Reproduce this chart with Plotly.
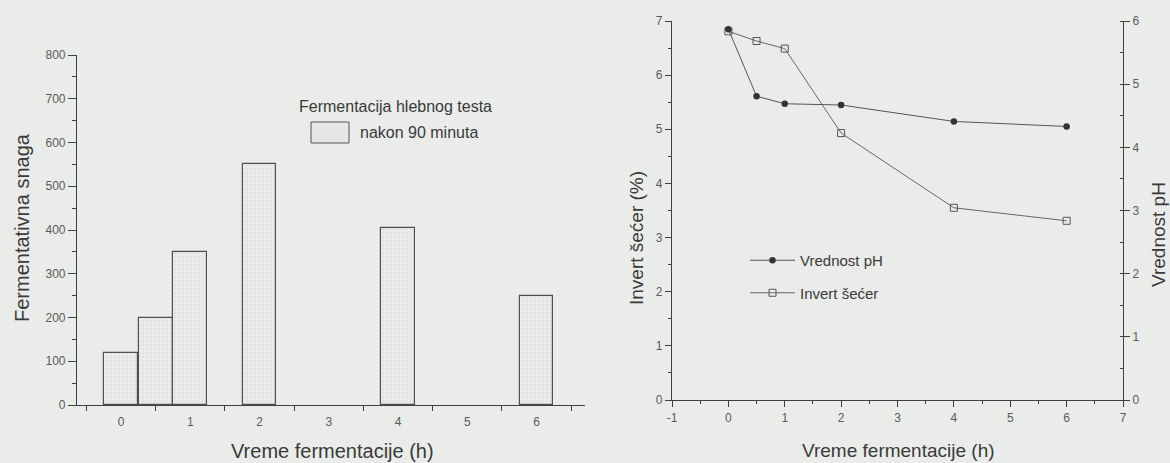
import plotly.graph_objects as go

# ---- data ----
bar_time = [0, 0.5, 1, 2, 4, 6]
bar_power = [120, 200, 350, 550, 405, 250]
bar_name = "nakon 90 minuta"
bar_legend_title = "Fermentacija hlebnog testa"

line_time = [0, 0.5, 1, 2, 4, 6]
ph_values = [5.87, 4.81, 4.69, 4.67, 4.41, 4.33]
sugar_values = [6.81, 6.63, 6.49, 4.93, 3.55, 3.31]

left_xticks = [0, 1, 2, 3, 4, 5, 6]
left_xminor = [-0.5, 0.5, 1.5, 2.5, 3.5, 4.5, 5.5, 6.5]
right_xticks = [-1, 0, 1, 2, 3, 4, 5, 6, 7]
right_xlabels = ["-1", "0", "1", "2", "3", "4", "5", "6", "7"]

W, H = 1170, 463
BG = "rgb(233,236,233)"
AX = "#404040"
TXT = "#3a3a3a"
FONT = "Liberation Sans, Arial"
TICKF = dict(family=FONT, size=12, color="#5a5a5a")

fig = go.Figure()

fig.add_trace(go.Bar(
    x=bar_time, y=bar_power, width=0.49, name=bar_name,
    marker=dict(color="rgb(228,231,228)", line=dict(color="#505050", width=1.2),
                pattern=dict(shape=".", fgcolor="rgb(207,211,207)", size=4, solidity=0.12)),
    xaxis="x", yaxis="y", showlegend=False,
))

fig.add_trace(go.Scatter(
    x=line_time, y=ph_values, name="Vrednost pH", mode="lines+markers",
    line=dict(color="#555555", width=1),
    marker=dict(symbol="circle", size=6.5, color="#333333"),
    xaxis="x2", yaxis="y4", legend="legend2", legendgroup="a",
))
fig.add_trace(go.Scatter(
    x=line_time, y=sugar_values, name="Invert šećer", mode="lines+markers",
    line=dict(color="#666666", width=1),
    marker=dict(symbol="square-open", size=7, color="#555555", line=dict(width=1)),
    xaxis="x2", yaxis="y2", legend="legend2", legendgroup="b",
))

ldom = [77 / W, 585 / W]
lydom = [58 / H, 408 / H]
rdom = [672 / W, 1123 / W]
rydom = [63 / H, 442 / H]

common = dict(showgrid=False, zeroline=False, automargin=False, linecolor=AX, linewidth=1.2, tickcolor=AX)

fig.update_layout(
    template="none",
    width=W, height=H,
    margin=dict(l=0, r=0, t=0, b=0, pad=0),
    paper_bgcolor=BG, plot_bgcolor=BG,
    font=dict(family=FONT, color=TXT),
    bargap=0,
    xaxis=dict(domain=ldom, range=[-0.635, 6.7], anchor="y",
               tickmode="array", tickvals=left_xticks, ticks="outside", ticklen=0,
               ticklabelstandoff=5, showline=True, tickfont=TICKF,
               minor=dict(tickmode="array", tickvals=left_xminor, ticks="outside",
                          ticklen=5, tickcolor=AX, showgrid=False), **common),
    xaxis4=dict(overlaying="x", anchor="y", range=[-0.635, 6.7],
                tickmode="array", tickvals=left_xminor, ticks="inside", ticklen=5,
                showticklabels=False, showline=False, **common),
    yaxis=dict(domain=lydom, range=[0, 800], anchor="x", dtick=100,
               ticks="outside", ticklen=8, showline=True, tickfont=TICKF,
               minor=dict(dtick=50, ticks="outside", ticklen=4, tickcolor=AX, showgrid=False),
               **common),
    xaxis2=dict(domain=rdom, range=[-1, 7], anchor="y2",
                tickmode="array", tickvals=right_xticks, ticktext=right_xlabels,
                ticks="outside", ticklen=6, showline=True, tickfont=TICKF,
                minor=dict(dtick=0.5, tick0=-1, ticks="outside", ticklen=3, tickcolor=AX, showgrid=False),
                **common),
    xaxis3=dict(overlaying="x2", anchor="y2", side="top", range=[-1, 7], dtick=1,
                ticks="inside", ticklen=6, showticklabels=False, showline=True,
                minor=dict(dtick=0.5, ticks="inside", ticklen=3, tickcolor=AX, showgrid=False),
                **common),
    yaxis2=dict(domain=rydom, range=[0, 7], anchor="x2", dtick=1,
                ticks="outside", ticklen=6, showline=True, tickfont=TICKF,
                minor=dict(dtick=0.5, ticks="outside", ticklen=3, tickcolor=AX, showgrid=False),
                **common),
    yaxis4=dict(overlaying="y2", anchor="x2", side="right", range=[0, 6], dtick=1,
                ticks="outside", ticklen=6, showline=True, tickfont=TICKF,
                minor=dict(dtick=0.5, ticks="inside", ticklen=3, tickcolor=AX, showgrid=False),
                **common),
    legend2=dict(x=745 / W, y=1 - 244 / H, xanchor="left", yanchor="top",
                 bgcolor="rgba(0,0,0,0)", font=dict(family=FONT, size=15, color=TXT),
                 tracegroupgap=10, itemwidth=45, traceorder="grouped"),
    showlegend=True,
)

# left legend (title + swatch)
fig.add_shape(type="rect", xref="paper", yref="paper",
              x0=311 / W, x1=349 / W, y0=1 - 143 / H, y1=1 - 122 / H,
              line=dict(color="#555555", width=1), fillcolor="rgb(228,231,228)")
fig.add_annotation(text=bar_legend_title, xref="paper", yref="paper",
                   x=297 / W, y=1 - 106 / H, xanchor="left", yanchor="middle",
                   showarrow=False, font=dict(size=16, color=TXT))
fig.add_annotation(text=bar_name, xref="paper", yref="paper",
                   x=358 / W, y=1 - 132 / H, xanchor="left", yanchor="middle",
                   showarrow=False, font=dict(size=16, color=TXT))

# axis titles
titles = [
    ("Fermentativna snaga", 22, 228, -90, 20),
    ("Vreme fermentacije (h)", 332, 451, 0, 20),
    ("Invert šećer (%)", 636, 238, -90, 19),
    ("Vrednost pH", 1158, 235, -90, 19),
    ("Vreme fermentacije (h)", 898, 450, 0, 19),
]
for t, px, py, ang, sz in titles:
    fig.add_annotation(text=t, xref="paper", yref="paper", x=px / W, y=1 - py / H,
                       xanchor="center", yanchor="middle", textangle=ang,
                       showarrow=False, font=dict(size=sz, color=TXT))

fig.write_html("out.html")
